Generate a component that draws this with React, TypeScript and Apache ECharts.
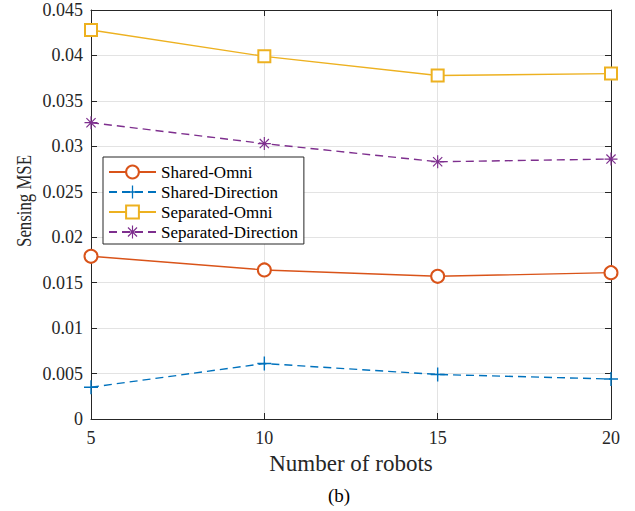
import React, { useEffect, useRef } from "react";
import * as echarts from "echarts";

const robots = [5, 10, 15, 20];
const sharedOmni = [0.0179, 0.0164, 0.0157, 0.0161];
const sharedDirection = [0.0035, 0.0061, 0.0049, 0.0044];
const separatedOmni = [0.0428, 0.0399, 0.0378, 0.038];
const separatedDirection = [0.0326, 0.0303, 0.0283, 0.0286];
const seriesNames = ["Shared-Omni", "Shared-Direction", "Separated-Omni", "Separated-Direction"];

const FONT = "Liberation Serif";
const AX = "#262626";

function bar(angleDeg: number, L = 10, t = 0.9): string {
  const a = (angleDeg * Math.PI) / 180;
  const c = Math.cos(a), s = Math.sin(a);
  const pts = [
    [-L, -t],
    [L, -t],
    [L, t],
    [-L, t],
  ].map(([x, y]) => [x * c - y * s, x * s + y * c]);
  return (
    "M" + pts.map((p) => p[0].toFixed(3) + " " + p[1].toFixed(3)).join(" L") + " Z "
  );
}
const plusPath = "path://" + bar(0, 10, 1) + bar(90, 10, 1);
const starPath = "path://" + bar(0) + bar(45) + bar(90) + bar(135);

const pairs = (vals: number[]) => robots.map((x, i) => [x, vals[i]]);

export default function App() {
  const ref = useRef<HTMLDivElement>(null);
  useEffect(() => {
    if (!ref.current) return;
    const chart = echarts.init(ref.current, undefined, { renderer: "svg" });
    const fmtY = (v: number) => Number(v.toFixed(3)).toString();
    const option: any = {
      animation: false,
      backgroundColor: "#fff",
      textStyle: { fontFamily: FONT },
      grid: { left: 91, top: 10, right: 24, bottom: 92, outerBoundsMode: "none", containLabel: false },
      legend: {
        orient: "vertical",
        left: 103,
        top: 157,
        z: 10,
        itemWidth: 47,
        itemHeight: 16,
        itemGap: 0,
        padding: [5, 6, 2, 5],
        borderColor: AX,
        borderWidth: 1,
        borderRadius: 0,
        backgroundColor: "#fff",
        textStyle: { fontFamily: FONT, fontSize: 17, color: "#000", lineHeight: 20 },
        data: seriesNames,
      },
      xAxis: [
        {
          type: "value",
          position: "bottom",
          min: 5,
          max: 20,
          interval: 5,
          name: "Number of robots",
          nameLocation: "middle",
          nameGap: 29,
          nameTextStyle: { fontFamily: FONT, fontSize: 23, color: AX },
          axisLine: { show: true, onZero: false, lineStyle: { color: AX, width: 1 } },
          axisTick: { show: true, inside: true, length: 6, lineStyle: { color: AX } },
          axisLabel: { color: AX, fontFamily: FONT, fontSize: 18, margin: 10 },
          splitLine: { show: true, lineStyle: { color: "#e3e3e3", width: 1 } },
        },
        {
          type: "value",
          position: "top",
          min: 5,
          max: 20,
          interval: 5,
          axisLine: { show: true, onZero: false, lineStyle: { color: AX, width: 1 } },
          axisTick: { show: true, inside: true, length: 6, lineStyle: { color: AX } },
          axisLabel: { show: false },
          splitLine: { show: false },
        },
      ],
      yAxis: [
        {
          type: "value",
          position: "left",
          min: 0,
          max: 0.045,
          interval: 0.005,
          axisLine: { show: true, onZero: false, lineStyle: { color: AX, width: 1 } },
          axisTick: { show: true, inside: true, length: 6, lineStyle: { color: AX } },
          axisLabel: { color: AX, fontFamily: FONT, fontSize: 18, margin: 8, formatter: fmtY, showMaxLabel: true },
          splitLine: { show: true, lineStyle: { color: "#e3e3e3", width: 1 } },
        },
        {
          type: "value",
          position: "right",
          min: 0,
          max: 0.045,
          interval: 0.005,
          axisLine: { show: true, onZero: false, lineStyle: { color: AX, width: 1 } },
          axisTick: { show: true, inside: true, length: 6, lineStyle: { color: AX } },
          axisLabel: { show: false },
          splitLine: { show: false },
        },
      ],
      graphic: [
        {
          type: "text",
          x: 24,
          y: 201,
          rotation: Math.PI / 2,
          scaleX: 0.8,
          style: {
            text: "Sensing MSE",
            fontFamily: FONT,
            fontSize: 21,
            fill: AX,
            textAlign: "center",
            textVerticalAlign: "middle",
          },
        },
        {
          type: "text",
          x: 339,
          y: 495,
          style: {
            text: "(b)",
            fontFamily: FONT,
            fontSize: 19,
            fill: "#000",
            textAlign: "center",
            textVerticalAlign: "middle",
          },
        },
      ],
      series: [
        {
          name: seriesNames[0],
          type: "line",
          data: pairs(sharedOmni),
          symbol: "emptyCircle",
          symbolSize: 13,
          color: "#D95319",
          lineStyle: { color: "#D95319", width: 1.4, type: "solid" },
          itemStyle: { color: "#D95319", borderWidth: 1.3 },
          z: 3,
        },
        {
          name: seriesNames[1],
          type: "line",
          data: pairs(sharedDirection),
          symbol: plusPath,
          symbolSize: 14,
          color: "#0072BD",
          lineStyle: { color: "#0072BD", width: 1.4, type: [8, 5] },
          itemStyle: { color: "#0072BD", borderWidth: 0 },
          z: 3,
        },
        {
          name: seriesNames[2],
          type: "line",
          data: pairs(separatedOmni),
          symbol: "emptyRect",
          symbolSize: 12,
          color: "#EDB120",
          lineStyle: { color: "#EDB120", width: 1.4, type: "solid" },
          itemStyle: { color: "#EDB120", borderWidth: 1.3 },
          z: 3,
        },
        {
          name: seriesNames[3],
          type: "line",
          data: pairs(separatedDirection),
          symbol: starPath,
          symbolSize: 13,
          color: "#7E2F8E",
          lineStyle: { color: "#7E2F8E", width: 1.4, type: [8, 5] },
          itemStyle: { color: "#7E2F8E", borderWidth: 0 },
          z: 3,
        },
      ],
    };
    chart.setOption(option);
    return () => chart.dispose();
  }, []);
  return (
    <div
      ref={ref}
      style={{ position: "absolute", left: 0, top: 0, width: 635, height: 511 }}
    />
  );
}
